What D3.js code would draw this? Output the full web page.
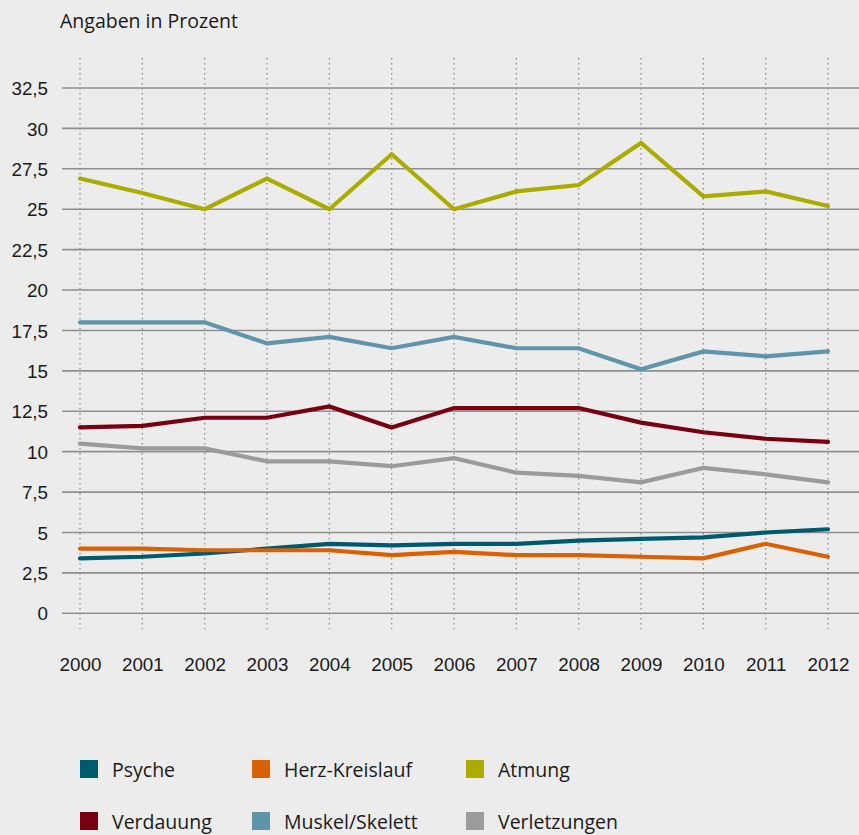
<!DOCTYPE html>
<html>
<head>
<meta charset="utf-8">
<script src="https://cdn.jsdelivr.net/npm/d3@7"></script>
<style>
  html, body { margin: 0; padding: 0; background: #ececec; }
  svg { display: block; font-family: "Open Sans", "DejaVu Sans", sans-serif; }
  .axis text { fill: #1a1a1a; font-size: 18.8px; }
  .axis path { display: none; }
</style>
</head>
<body>
<div id="chart"></div>
<script>
const years = [2000, 2001, 2002, 2003, 2004, 2005, 2006, 2007, 2008, 2009, 2010, 2011, 2012];
const yTicks = [0, 2.5, 5, 7.5, 10, 12.5, 15, 17.5, 20, 22.5, 25, 27.5, 30, 32.5];

const psyche = [3.4, 3.5, 3.7, 4.0, 4.3, 4.2, 4.3, 4.3, 4.5, 4.6, 4.7, 5.0, 5.2];
const herzKreislauf = [4.0, 4.0, 3.9, 3.9, 3.9, 3.6, 3.8, 3.6, 3.6, 3.5, 3.4, 4.3, 3.5];
const atmung = [26.9, 26.0, 25.0, 26.9, 25.0, 28.4, 25.0, 26.1, 26.5, 29.1, 25.8, 26.1, 25.2];
const verdauung = [11.5, 11.6, 12.1, 12.1, 12.8, 11.5, 12.7, 12.7, 12.7, 11.8, 11.2, 10.8, 10.6];
const muskelSkelett = [18.0, 18.0, 18.0, 16.7, 17.1, 16.4, 17.1, 16.4, 16.4, 15.1, 16.2, 15.9, 16.2];
const verletzungen = [10.5, 10.2, 10.2, 9.4, 9.4, 9.1, 9.6, 8.7, 8.5, 8.1, 9.0, 8.6, 8.1];

const series = [
  { name: "Psyche", color: "#005a6e", values: psyche },
  { name: "Herz-Kreislauf", color: "#d96003", values: herzKreislauf },
  { name: "Atmung", color: "#abab00", values: atmung },
  { name: "Verdauung", color: "#780010", values: verdauung },
  { name: "Muskel/Skelett", color: "#6094aa", values: muskelSkelett },
  { name: "Verletzungen", color: "#9b9b9b", values: verletzungen },
];

const width = 859, height = 835;
const svg = d3.select("#chart").append("svg").attr("width", width).attr("height", height);

const x = d3.scaleLinear().domain([2000, 2012]).range([80, 828]);
const y = d3.scaleLinear().domain([0, 32.5]).range([613.3, 88]);
const de = d3.formatLocale({ decimal: ",", thousands: ".", grouping: [3], currency: ["", " €"] });
const fmt = de.format(",");

svg.append("text")
  .attr("x", 60).attr("y", 28)
  .attr("font-size", 19.5).attr("fill", "#1a1a1a")
  .text("Angaben in Prozent");

// vertical dotted lines
svg.append("g").selectAll("line").data(years).enter().append("line")
  .attr("x1", (d) => x(d)).attr("x2", (d) => x(d))
  .attr("y1", 58).attr("y2", 629)
  .attr("stroke", "#8a8a8a").attr("stroke-width", 1.3).attr("stroke-dasharray", "1.5 3.5");

// horizontal gridlines
svg.append("g").selectAll("line").data(yTicks).enter().append("line")
  .attr("x1", 62).attr("x2", width)
  .attr("y1", (d) => y(d)).attr("y2", (d) => y(d))
  .attr("stroke", "#8f8f8f").attr("stroke-width", 1.6);

const yAxis = svg.append("g").attr("class", "axis").attr("transform", "translate(48,0)")
  .call(d3.axisLeft(y).tickValues(yTicks).tickSize(0).tickPadding(0).tickFormat(fmt));
yAxis.selectAll("text").attr("dy", "0.35em");

svg.append("g").attr("class", "axis").attr("transform", "translate(0,658)")
  .call(d3.axisBottom(x).tickValues(years).tickSize(0).tickPadding(0).tickFormat(d3.format("d")));

const line = d3.line().x((d, i) => x(years[i])).y((d) => y(d));

svg.append("g").selectAll("path").data(series).enter().append("path")
  .attr("d", (d) => line(d.values))
  .attr("fill", "none")
  .attr("stroke", (d) => d.color)
  .attr("stroke-width", 4.2)
  .attr("stroke-linejoin", "miter")
  .attr("stroke-linecap", "round");

// legend
const legendCols = [80, 252, 466];
const legendRows = [760, 812];
const legend = svg.append("g").selectAll("g").data(series).enter().append("g")
  .attr("transform", (d, i) => `translate(${legendCols[i % 3]},${legendRows[Math.floor(i / 3)]})`);
legend.append("rect").attr("width", 18).attr("height", 18).attr("fill", (d) => d.color);
legend.append("text").attr("x", 32).attr("y", 17)
  .attr("font-size", 19.5).attr("fill", "#1a1a1a")
  .text((d) => d.name);
</script>
</body>
</html>
